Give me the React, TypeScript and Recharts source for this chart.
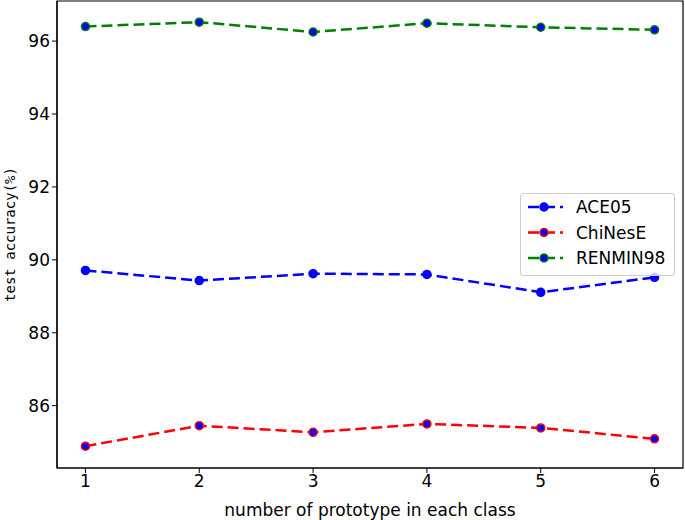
import React from "react";
import { LineChart, Line, XAxis, YAxis, ReferenceArea } from "recharts";

const prototypes = [1, 2, 3, 4, 5, 6];
const ace05 = [89.71, 89.43, 89.62, 89.6, 89.11, 89.52];
const chinese = [84.89, 85.45, 85.27, 85.5, 85.39, 85.09];
const renmin98 = [96.4, 96.52, 96.25, 96.49, 96.38, 96.31];
const xTicks = [1, 2, 3, 4, 5, 6];
const yTicks = [86, 88, 90, 92, 94, 96];

const seriesInfo = [
  { key: "ACE05", color: "#0000ff" },
  { key: "ChiNesE", color: "#ff0000" },
  { key: "RENMIN98", color: "#008000" },
];

const data = prototypes.map((p, i) => ({
  x: p,
  ACE05: ace05[i],
  ChiNesE: chinese[i],
  RENMIN98: renmin98[i],
}));

const font = "'DejaVu Sans', sans-serif";
const X_DOMAIN: [number, number] = [0.75, 6.25];
const Y_DOMAIN: [number, number] = [84.29, 97.1];

const LegendBox = () => (
  <div
    style={{
      position: "absolute",
      left: 520,
      top: 193,
      width: 155,
      height: 83,
      border: "1px solid #cccccc",
      borderRadius: 3,
      background: "rgba(255,255,255,0.8)",
      boxSizing: "border-box",
    }}
  >
    <svg width={153} height={81} style={{ display: "block" }}>
      {seriesInfo.map((s, i) => {
        const y = 13 + i * 25.5;
        return (
          <g key={s.key}>
            <line x1={7} x2={42} y1={y} y2={y} stroke={s.color} strokeWidth={2.5} strokeDasharray="11 5" />
            <circle cx={23} cy={y} r={4} fill="#0000ff" stroke={s.color} strokeWidth={1.5} />
            <text x={55} y={y + 6} fontFamily={font} fontSize={17} fill="#000">
              {s.key}
            </text>
          </g>
        );
      })}
    </svg>
  </div>
);

export default function App() {
  return (
    <div style={{ position: "absolute", left: 0, top: 0, width: 685, height: 520, background: "#fff" }}>
      <LineChart width={685} height={520} data={data} margin={{ top: 1, right: 2, left: 0, bottom: 0 }}>
        <XAxis
          xAxisId="b"
          dataKey="x"
          type="number"
          domain={X_DOMAIN}
          ticks={xTicks}
          height={52}
          tickSize={5}
          tickLine={{ stroke: "#000" }}
          axisLine={{ stroke: "#000", strokeWidth: 1.2 }}
          tick={{ fill: "#000", fontFamily: font, fontSize: 17 }}
          label={{ value: "number of prototype in each class", position: "insideBottom", offset: 4, fill: "#000", fontFamily: font, fontSize: 17 }}
          allowDataOverflow
        />
        <YAxis
          yAxisId="l"
          type="number"
          domain={Y_DOMAIN}
          ticks={yTicks}
          width={57}
          tickSize={5}
          tickLine={{ stroke: "#000" }}
          axisLine={{ stroke: "#000", strokeWidth: 1.2 }}
          tick={{ fill: "#000", fontFamily: font, fontSize: 17 }}
          label={{ value: "test accuracy(%)", angle: -90, position: "insideLeft", offset: 0, dx: 10, style: { textAnchor: "middle" }, fill: "#000", fontFamily: "'DejaVu Sans Mono', monospace", fontSize: 14 }}
          allowDataOverflow
        />
        <ReferenceArea
          xAxisId="b"
          yAxisId="l"
          x1={X_DOMAIN[0]}
          x2={X_DOMAIN[1]}
          y1={Y_DOMAIN[0]}
          y2={Y_DOMAIN[1]}
          fill="none"
          fillOpacity={0}
          stroke="#000"
          strokeWidth={1.2}
          strokeOpacity={1}
          ifOverflow="visible"
        />
        {seriesInfo.map((s) => (
          <Line
            key={s.key}
            xAxisId="b"
            yAxisId="l"
            dataKey={s.key}
            stroke={s.color}
            strokeWidth={2.5}
            strokeDasharray="11 5"
            type="linear"
            dot={{ r: 4, fill: "#0000ff", stroke: s.color, strokeWidth: 1.5, strokeDasharray: "" }}
            isAnimationActive={false}
          />
        ))}
      </LineChart>
      <LegendBox />
    </div>
  );
}
